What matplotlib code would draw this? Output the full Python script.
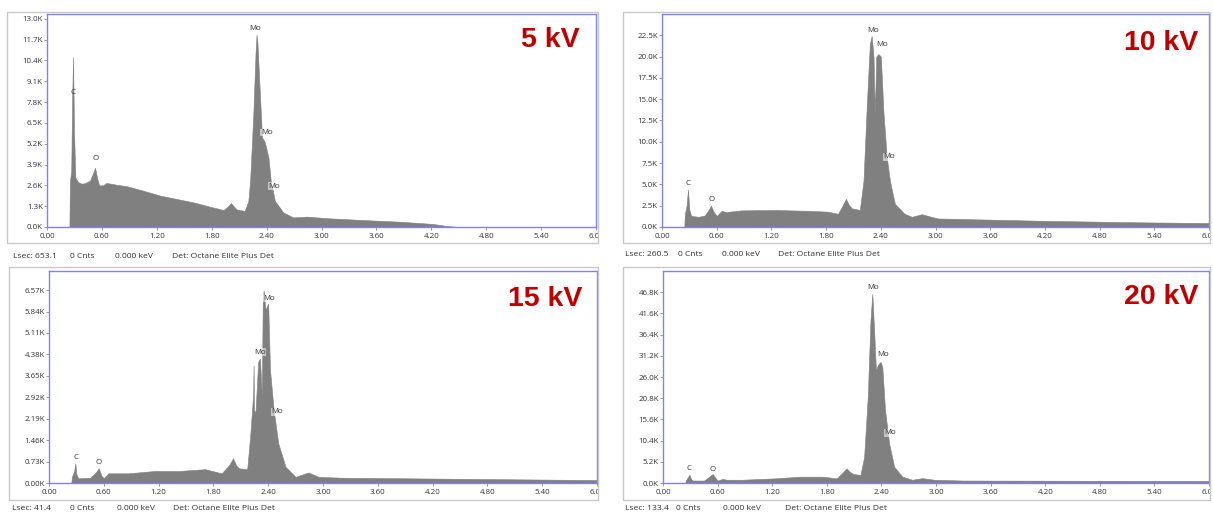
import matplotlib
matplotlib.use("Agg")
import matplotlib.pyplot as plt
from matplotlib.patches import Rectangle
from matplotlib.transforms import Bbox, TransformedBbox

# ---------------- data (energy keV, counts in K) ----------------
e_5kv = [0.245, 0.25, 0.265, 0.275, 0.285, 0.295, 0.31, 0.34, 0.38, 0.42, 0.47, 0.50, 0.525, 0.55,
         0.57, 0.61, 0.65, 0.75, 0.87, 1.05, 1.235, 1.417, 1.6, 1.78, 1.93, 1.98, 2.01, 2.04, 2.07,
         2.16, 2.20, 2.22, 2.255, 2.28, 2.29, 2.30, 2.32, 2.35, 2.38, 2.42, 2.445, 2.49, 2.58, 2.69,
         2.77, 2.84, 3.06, 3.4, 3.86, 4.22, 4.37, 4.5, 6.0]
c_5kv = [0, 2.8, 3.5, 8.0, 10.6, 6.0, 3.1, 2.8, 2.7, 2.75, 2.9, 3.3, 3.7, 3.0,
         2.6, 2.6, 2.75, 2.65, 2.55, 2.27, 1.96, 1.75, 1.54, 1.27, 1.06, 1.3, 1.5, 1.3, 1.1,
         1.0, 1.6, 2.9, 7.06, 11.0, 12.0, 11.5, 9.1, 5.6, 5.3, 4.35, 2.9, 1.64, 0.92, 0.6,
         0.62, 0.65, 0.55, 0.45, 0.33, 0.19, 0.06, 0, 0]

e_10kv = [0.245, 0.25, 0.27, 0.285, 0.30, 0.32, 0.40, 0.47, 0.51, 0.537, 0.565, 0.60, 0.655, 0.70,
          0.87, 1.24, 1.6, 1.82, 1.93, 1.98, 2.017, 2.05, 2.08, 2.17, 2.21, 2.245, 2.26, 2.28, 2.30,
          2.32, 2.335, 2.35, 2.375, 2.40, 2.43, 2.465, 2.50, 2.555, 2.66, 2.74, 2.85, 2.99, 3.03,
          4.12, 5.22, 6.0]
c_10kv = [0, 1.5, 2.5, 4.4, 2.0, 1.3, 1.2, 1.35, 2.0, 2.5, 1.8, 1.3, 1.9, 1.75,
          1.95, 2.0, 1.9, 1.8, 1.55, 2.5, 3.3, 2.6, 2.2, 2.0, 5.4, 13.9, 17.2, 21.5, 22.4,
          20.0, 13.3, 20.0, 20.3, 20.0, 13.3, 8.2, 5.4, 2.7, 1.55, 1.2, 1.5, 1.1, 1.0,
          0.74, 0.55, 0.47]

e_15kv = [0.245, 0.25, 0.275, 0.288, 0.30, 0.32, 0.45, 0.51, 0.544, 0.575, 0.60, 0.65, 0.87, 1.16,
          1.42, 1.71, 1.89, 1.97, 2.015, 2.05, 2.08, 2.17, 2.205, 2.235, 2.24, 2.245, 2.26, 2.29,
          2.31, 2.33, 2.34, 2.35, 2.37, 2.40, 2.42, 2.46, 2.51, 2.59, 2.70, 2.84, 2.95, 3.2, 6.0]
c_15kv = [0, 0.2, 0.4, 0.67, 0.3, 0.16, 0.18, 0.35, 0.5, 0.25, 0.16, 0.33, 0.33, 0.41,
          0.41, 0.47, 0.33, 0.6, 0.84, 0.6, 0.5, 0.47, 1.69, 3.0, 4.0, 2.5, 2.37, 4.13,
          4.24, 2.94, 6.11, 6.56, 5.9, 6.11, 3.84, 2.48, 1.35, 0.55, 0.21, 0.36, 0.21, 0.18, 0.1]

e_20kv = [0.245, 0.25, 0.27, 0.29, 0.31, 0.33, 0.45, 0.50, 0.545, 0.585, 0.60, 0.655, 0.70, 0.87,
          1.24, 1.5, 1.75, 1.91, 1.97, 2.017, 2.05, 2.09, 2.17, 2.21, 2.25, 2.28, 2.30, 2.32, 2.34,
          2.36, 2.39, 2.41, 2.44, 2.485, 2.54, 2.63, 2.74, 2.85, 2.98, 3.3, 6.0]
c_20kv = [0, 0.6, 1.3, 2.0, 0.9, 0.6, 0.6, 1.4, 2.2, 1.0, 0.6, 1.0, 0.8, 0.8,
          1.15, 1.55, 1.55, 1.15, 2.5, 3.6, 2.8, 2.2, 2.0, 6.4, 21.1, 39.9, 46.4, 37.4, 27.6,
          28.9, 29.7, 28.5, 17.9, 9.7, 4.0, 1.55, 0.8, 1.2, 0.8, 0.6, 0.5]

titles = ["5 kV", "10 kV", "15 kV", "20 kV"]
lsec = ["653.1", "260.5", "41.4", "133.4"]

x_ticks = [0.00, 0.60, 1.20, 1.80, 2.40, 3.00, 3.60, 4.20, 4.80, 5.40, 6.00]
y_ticks_5kv = [0.0, 1.3, 2.6, 3.9, 5.2, 6.5, 7.8, 9.1, 10.4, 11.7, 13.0]
y_ticks_10kv = [0.0, 2.5, 5.0, 7.5, 10.0, 12.5, 15.0, 17.5, 20.0, 22.5]
y_ticks_15kv = [0.00, 0.73, 1.46, 2.19, 2.92, 3.65, 4.38, 5.11, 5.84, 6.57]
y_ticks_20kv = [0.0, 5.2, 10.4, 15.6, 20.8, 26.0, 31.2, 36.4, 41.6, 46.8]
y_max = [13.3, 25.0, 7.22, 52.0]
y_dec = [1, 1, 2, 1]

# peak labels: (text, energy, counts K)
labels_5kv = [("C", 0.285, 8.4), ("O", 0.535, 4.25), ("Mo", 2.27, 12.4), ("Mo", 2.40, 5.9), ("Mo", 2.48, 2.55)]
labels_10kv = [("C", 0.285, 5.05), ("O", 0.54, 3.2), ("Mo", 2.31, 23.1), ("Mo", 2.41, 21.4), ("Mo", 2.49, 8.25)]
labels_15kv = [("C", 0.296, 0.86), ("O", 0.547, 0.70), ("Mo", 2.41, 6.28), ("Mo", 2.31, 4.45), ("Mo", 2.50, 2.43)]
labels_20kv = [("C", 0.29, 3.6), ("O", 0.545, 3.4), ("Mo", 2.31, 48.0), ("Mo", 2.415, 31.6), ("Mo", 2.50, 12.3)]

energies = [e_5kv, e_10kv, e_15kv, e_20kv]
counts = [c_5kv, c_10kv, c_15kv, c_20kv]
yticks = [y_ticks_5kv, y_ticks_10kv, y_ticks_15kv, y_ticks_20kv]
peak_labels = [labels_5kv, labels_10kv, labels_15kv, labels_20kv]

# ---------------- layout (pixels) ----------------
W, H = 1213, 517
fig = plt.figure(figsize=(W / 100, H / 100), dpi=100)
fig.patch.set_facecolor("white")

ax_px = [(47, 14, 596, 227), (662, 14, 1209, 227), (49, 271, 597, 483), (663, 271, 1209, 483)]
frame_px = [(7, 12, 598, 243), (623, 12, 1210, 243), (9, 267, 598, 500), (623, 267, 1210, 500)]
footer_y = [256, 254, 508, 509]
footer_x = [(13, 70, 115, 172), (625, 678, 722, 778), (12, 70, 117, 173), (625, 676, 723, 785)]
title_px = [(580, 40), (1198, 43), (582, 299), (1198, 297)]

FONT = "Open Sans"
gray_fill = "#808080"
spine_col = "#8080ff"

for i in range(4):
    l, t, r, b = ax_px[i]
    ax = fig.add_axes([l / W, 1 - b / H, (r - l) / W, (b - t) / H])
    ax.fill_between(energies[i], counts[i], 0, color=gray_fill, linewidth=0.4, edgecolor=gray_fill)
    ax.set_xlim(0, 6.0)
    ax.set_ylim(0, y_max[i])
    for s in ax.spines.values():
        s.set_color(spine_col)
        s.set_linewidth(1.0)
    ax.set_xticks(x_ticks)
    ax.set_xticklabels([f"{v:.2f}" for v in x_ticks], fontsize=5.7, family=FONT, color="#333333")
    ax.set_yticks(yticks[i])
    ax.set_yticklabels([f"{v:.{y_dec[i]}f}K" for v in yticks[i]], fontsize=5.7, family=FONT, color="#333333")
    ax.tick_params(axis="both", length=2.5, width=0.6, color="#888888", pad=1.5)
    ax.tick_params(axis="y", pad=0.5)

    for txt, ex, cy in peak_labels[i]:
        ax.text(ex, cy, txt, fontsize=5.7, family=FONT, color="#333333", ha="center", va="center",
                bbox=dict(boxstyle="square,pad=0.05", facecolor="white", edgecolor="none",
                          alpha=0.55 if txt == "Mo" else 0.0))

    fl, ft, fr, fb = frame_px[i]
    fig.patches.append(Rectangle((fl / W, 1 - fb / H), (fr - fl) / W, (fb - ft) / H,
                                 transform=fig.transFigure, fill=False, edgecolor="#c8c8c8",
                                 linewidth=1.0, zorder=0))
    clip = TransformedBbox(Bbox.from_extents(fl / W, 1 - fb / H, fr / W, 1 - ft / H), fig.transFigure)
    for lbl in ax.get_xticklabels():
        lbl.set_clip_on(True)
        lbl.set_clip_box(clip)

    tx, ty = title_px[i]
    fig.text(tx / W, 1 - ty / H, titles[i], fontsize=20.5, fontweight="bold",
             family="Liberation Sans", color="#c00000", ha="right", va="center")

    fy = 1 - footer_y[i] / H
    fx = footer_x[i]
    for x, s in zip(fx, [f"Lsec: {lsec[i]}", "0 Cnts", "0.000 keV", "Det: Octane Elite Plus Det"]):
        fig.text(x / W, fy, s, fontsize=6.1, family=FONT, color="#333333", ha="left", va="center")

fig.savefig("out.png", dpi=100)
